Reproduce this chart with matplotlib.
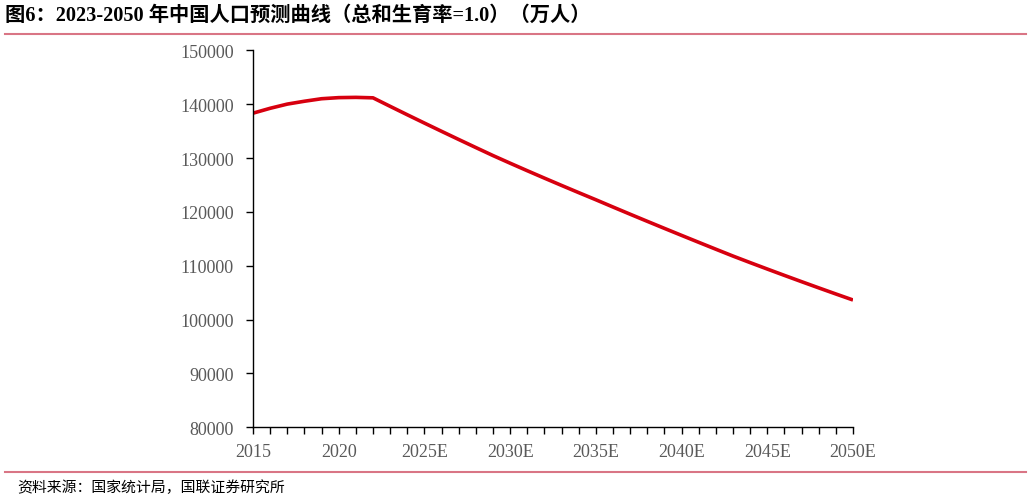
import numpy as np
import matplotlib
matplotlib.use("Agg")
import matplotlib.pyplot as plt
from matplotlib.lines import Line2D

# 年份与人口（万人），2023年起为预测值
years = list(range(2015, 2051))
population = [138326, 139232, 140011, 140541, 141008, 141212, 141260, 141175,
              139595, 138030, 136485, 134955, 133440, 131940, 130455, 129035,
              127640, 126265, 124910, 123570, 122250, 120900, 119565, 118245,
              116935, 115635, 114345, 113065, 111795, 110580, 109385, 108205,
              107040, 105890, 104755, 103635]
xtick_years = [2015, 2020, 2025, 2030, 2035, 2040, 2045, 2050]
xtick_labels = ["2015", "2020", "2025E", "2030E", "2035E", "2040E", "2045E", "2050E"]
yticks = [80000, 90000, 100000, 110000, 120000, 130000, 140000, 150000]

title = "图6：2023-2050 年中国人口预测曲线（总和生育率=1.0）（万人）"
source = "资料来源：国家统计局，国联证券研究所"

serif = ["Liberation Serif", "Noto Sans CJK SC", "DejaVu Sans"]
pink = "#d97585"

fig = plt.figure(figsize=(10.31, 5.02), dpi=100)
ax = fig.add_axes([253 / 1031, 1 - 428.3 / 502, 600 / 1031, 377 / 502])

ax.plot(years, population, color="#d7000f", linewidth=2.6, solid_capstyle="butt")

ax.set_xlim(2015, 2050)
ax.set_ylim(80000, 150000)
ax.set_yticks(yticks)
ax.set_yticklabels([str(v) for v in yticks])
ax.set_xticks(years, minor=True)
ax.set_xticks(xtick_years)
ax.set_xticklabels(xtick_labels)

for side in ["top", "right"]:
    ax.spines[side].set_visible(False)
ax.spines["left"].set_linewidth(1.0)
ax.spines["bottom"].set_linewidth(1.0)

ax.tick_params(axis="both", which="both", direction="out", length=5, width=1,
               color="black", labelcolor="#595959")
ax.tick_params(axis="x", pad=6)
ax.tick_params(axis="y", pad=9)
for lab in ax.get_xticklabels() + ax.get_yticklabels():
    lab.set_family(serif)
    lab.set_fontsize(13)

fig.text(5 / 1031, 1 - 16 / 502, title, family=serif, fontweight="bold",
         fontsize=14.6, va="center", ha="left", color="black")
fig.add_artist(Line2D([5 / 1031, 1026 / 1031], [1 - 34.5 / 502] * 2,
                      color=pink, linewidth=1.5, transform=fig.transFigure))
fig.add_artist(Line2D([5 / 1031, 1026 / 1031], [1 - 472.7 / 502] * 2,
                      color=pink, linewidth=1.5, transform=fig.transFigure))
fig.text(17 / 1031, 1 - 488 / 502, source, family=["Noto Sans CJK SC", "DejaVu Sans"],
         fontsize=10.7, va="center", ha="left", color="black")

fig.savefig("out.png", dpi=100)
